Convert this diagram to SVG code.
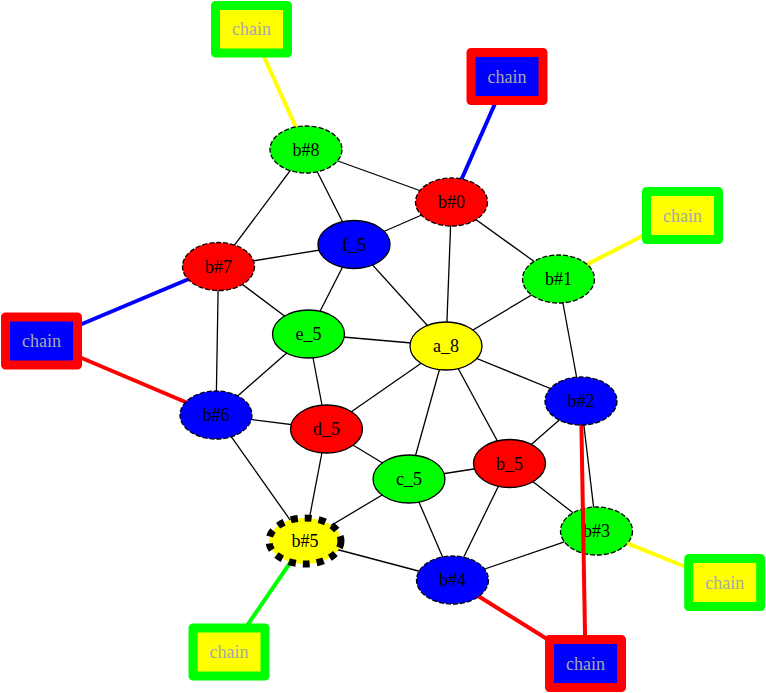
<svg xmlns="http://www.w3.org/2000/svg" width="766" height="693" viewBox="0 0 766 693">
<style>
.bg{fill:#ffffff}
.n ellipse{stroke:#000;stroke-width:1.3}
.n.d ellipse{stroke-dasharray:5,2}
.n.big ellipse{stroke-width:7;stroke-dasharray:7,7}
text{font-family:"Liberation Serif","Times New Roman",serif;font-size:18px;text-anchor:middle;fill:#000}
.c rect{stroke-width:9;stroke-linejoin:round}
.c text{fill:#a8a8a8}
.gy rect{fill:#ffff00;stroke:#00ff00}
.rb rect{fill:#0000ff;stroke:#ff0000}
#edges line{stroke:#000;stroke-width:1.3}
#edges line.t{stroke-width:4}
</style>
<rect class="bg" x="0" y="0" width="766" height="693"/>
<g id="n_b3" class="n d"><ellipse cx="596.5" cy="531" rx="36" ry="24" fill="#00ff00"/><text x="596.5" y="537">b#3</text></g>
<g id="edges">
<line x1="306" y1="149.5" x2="218.5" y2="266.5"/>
<line x1="306" y1="149.5" x2="354" y2="244.5"/>
<line x1="306" y1="149.5" x2="451.5" y2="202"/>
<line x1="451.5" y1="202" x2="354" y2="244.5"/>
<line x1="451.5" y1="202" x2="446" y2="346"/>
<line x1="451.5" y1="202" x2="558.5" y2="279"/>
<line x1="218.5" y1="266.5" x2="354" y2="244.5"/>
<line x1="218.5" y1="266.5" x2="308.5" y2="334"/>
<line x1="218.5" y1="266.5" x2="216" y2="415"/>
<line x1="354" y1="244.5" x2="308.5" y2="334"/>
<line x1="354" y1="244.5" x2="446" y2="346"/>
<line x1="308.5" y1="334" x2="446" y2="346"/>
<line x1="308.5" y1="334" x2="216" y2="415"/>
<line x1="308.5" y1="334" x2="326.5" y2="429"/>
<line x1="558.5" y1="279" x2="446" y2="346"/>
<line x1="558.5" y1="279" x2="581" y2="401"/>
<line x1="446" y1="346" x2="326.5" y2="429"/>
<line x1="446" y1="346" x2="409" y2="479"/>
<line x1="446" y1="346" x2="509.5" y2="463.5"/>
<line x1="446" y1="346" x2="581" y2="401"/>
<line x1="216" y1="415" x2="326.5" y2="429"/>
<line x1="216" y1="415" x2="305" y2="541"/>
<line x1="326.5" y1="429" x2="409" y2="479"/>
<line x1="326.5" y1="429" x2="305" y2="541"/>
<line x1="409" y1="479" x2="509.5" y2="463.5"/>
<line x1="409" y1="479" x2="305" y2="541"/>
<line x1="409" y1="479" x2="452.5" y2="580"/>
<line x1="509.5" y1="463.5" x2="581" y2="401"/>
<line x1="509.5" y1="463.5" x2="573" y2="512.8"/>
<line x1="509.5" y1="463.5" x2="452.5" y2="580"/>
<line x1="581" y1="401" x2="593.6" y2="507.1"/>
<line x1="564.4" y1="541.9" x2="452.5" y2="580"/>
<line x1="305" y1="541" x2="452.5" y2="580"/>
<line class="t" x1="251.5" y1="29" x2="306" y2="149.5" style="stroke:#ffff00"/>
<line class="t" x1="507" y1="76.5" x2="451.5" y2="202" style="stroke:#0000ff"/>
<line class="t" x1="682.5" y1="215.5" x2="558.5" y2="279" style="stroke:#ffff00"/>
<line class="t" x1="41.5" y1="341" x2="218.5" y2="266.5" style="stroke:#0000ff"/>
<line class="t" x1="41.5" y1="341" x2="216" y2="415" style="stroke:#ff0000"/>
<line class="t" x1="581" y1="401" x2="585.5" y2="663" style="stroke:#ff0000"/>
<line class="t" x1="627.3" y1="543.4" x2="724.7" y2="582.5" style="stroke:#ffff00"/>
<line class="t" x1="452.5" y1="580" x2="585.5" y2="663" style="stroke:#ff0000"/>
<line class="t" x1="305" y1="541" x2="229" y2="652" style="stroke:#00ff00"/>
</g>
<g id="n_b8" class="n d"><ellipse cx="306" cy="149.5" rx="36" ry="23.5" fill="#00ff00"/><text x="306" y="155.5">b#8</text></g>
<g id="n_b0" class="n d"><ellipse cx="451.5" cy="202" rx="36" ry="24" fill="#ff0000"/><text x="451.5" y="208">b#0</text></g>
<g id="n_f5" class="n"><ellipse cx="354" cy="244.5" rx="36" ry="24" fill="#0000ff"/><text x="354" y="250.5">f_5</text></g>
<g id="n_b7" class="n d"><ellipse cx="218.5" cy="266.5" rx="36" ry="24" fill="#ff0000"/><text x="218.5" y="272.5">b#7</text></g>
<g id="n_e5" class="n"><ellipse cx="308.5" cy="334" rx="36" ry="24" fill="#00ff00"/><text x="308.5" y="340">e_5</text></g>
<g id="n_a8" class="n"><ellipse cx="446" cy="346" rx="36" ry="24" fill="#ffff00"/><text x="446" y="352">a_8</text></g>
<g id="n_b1" class="n d"><ellipse cx="558.5" cy="279" rx="36" ry="24" fill="#00ff00"/><text x="558.5" y="285">b#1</text></g>
<g id="n_b6" class="n d"><ellipse cx="216" cy="415" rx="36" ry="24" fill="#0000ff"/><text x="216" y="421">b#6</text></g>
<g id="n_d5" class="n"><ellipse cx="326.5" cy="429" rx="36" ry="24" fill="#ff0000"/><text x="326.5" y="435">d_5</text></g>
<g id="n_c5" class="n"><ellipse cx="409" cy="479" rx="36" ry="24" fill="#00ff00"/><text x="409" y="485">c_5</text></g>
<g id="n_b_5" class="n"><ellipse cx="509.5" cy="463.5" rx="36" ry="24" fill="#ff0000"/><text x="509.5" y="469.5">b_5</text></g>
<g id="n_b2" class="n d"><ellipse cx="581" cy="401" rx="36" ry="24" fill="#0000ff"/><text x="581" y="407">b#2</text></g>
<g id="n_b5" class="n big"><ellipse cx="305" cy="541" rx="36" ry="23" fill="#ffff00"/><text x="305" y="547">b#5</text></g>
<g id="n_b4" class="n d"><ellipse cx="452.5" cy="580" rx="36" ry="24" fill="#0000ff"/><text x="452.5" y="586">b#4</text></g>
<g id="chain_1" class="c gy"><rect x="215.5" y="5.5" width="72" height="47.5"/><text x="251.5" y="35">chain</text></g>
<g id="chain_2" class="c rb"><rect x="471" y="52.5" width="72" height="48"/><text x="507" y="82.5">chain</text></g>
<g id="chain_3" class="c gy"><rect x="646.5" y="191.5" width="72" height="48"/><text x="682.5" y="221.5">chain</text></g>
<g id="chain_4" class="c rb"><rect x="5.5" y="317" width="72" height="48"/><text x="41.5" y="347">chain</text></g>
<g id="chain_5" class="c gy"><rect x="688.7" y="558.5" width="72" height="48"/><text x="724.7" y="588.5">chain</text></g>
<g id="chain_6" class="c rb"><rect x="549.5" y="639.5" width="72" height="48"/><text x="585.5" y="669.5">chain</text></g>
<g id="chain_7" class="c gy"><rect x="193" y="628" width="72" height="48"/><text x="229" y="658">chain</text></g>
</svg>
